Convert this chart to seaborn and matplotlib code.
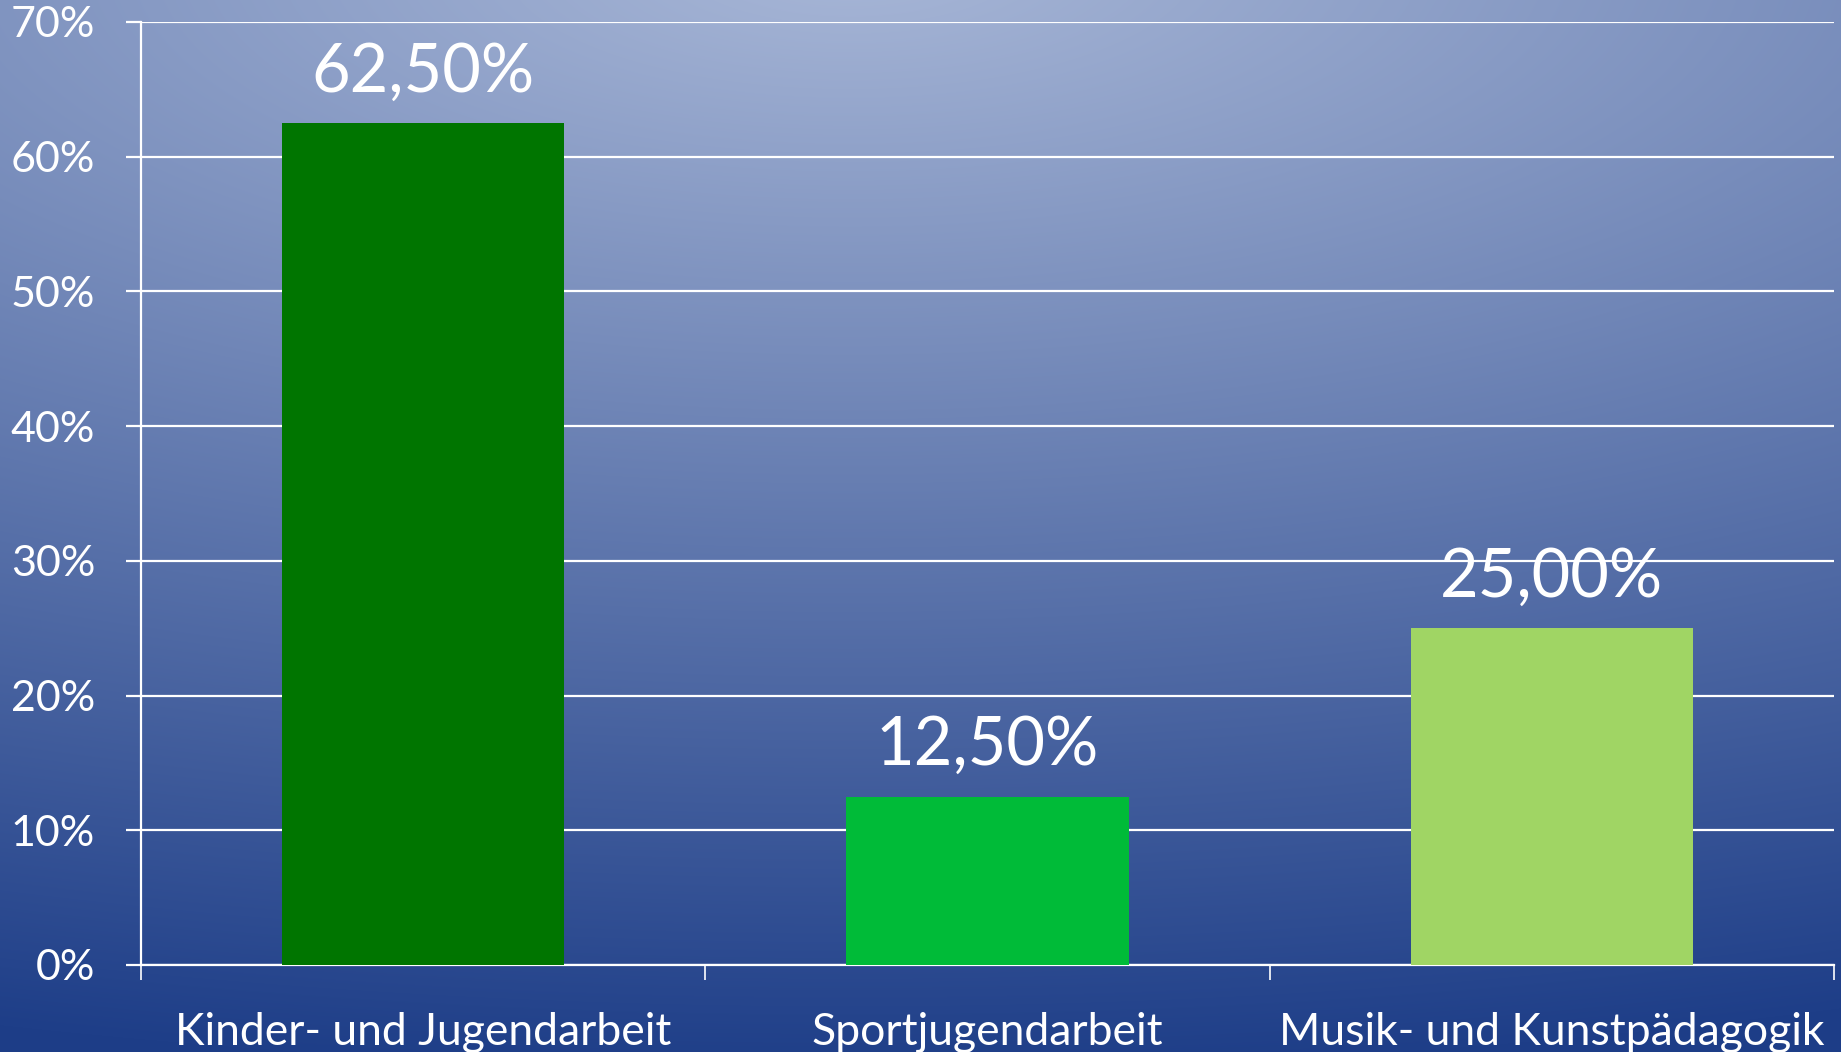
import numpy as np
import pandas as pd
import matplotlib
matplotlib.use("Agg")
import matplotlib.pyplot as plt
from matplotlib.ticker import PercentFormatter, FixedLocator
import seaborn as sns

# data
categories = ["Kinder- und Jugendarbeit", "Sportjugendarbeit", "Musik- und Kunstpädagogik"]
shares = [0.625, 0.125, 0.25]
bar_colors = ["#007500", "#00BB38", "#A0D564"]

df = pd.DataFrame({"Bereich": categories, "Anteil": shares})

sns.set_theme(style="white")
plt.rcParams["font.family"] = ["Lato", "DejaVu Sans"]

W, H = 1841, 1052
fig = plt.figure(figsize=(W / 100, H / 100), dpi=100)

# background gradient (light at top centre, dark blue towards the bottom)
bg = fig.add_axes([0, 0, 1, 1], zorder=0)
yy, xx = np.mgrid[0:H, 0:W]
d = np.sqrt(((xx - 850) / 3000.0) ** 2 + ((yy + 40) / 1110.0) ** 2)
d = np.clip(d, 0, 1)
light = np.array([0xA8, 0xB7, 0xD7]) / 255
dark = np.array([0x1E, 0x3E, 0x88]) / 255
img = light[None, None, :] * (1 - d[..., None]) + dark[None, None, :] * d[..., None]
bg.imshow(img, aspect="auto", extent=[0, 1, 0, 1])
bg.axis("off")

ax = fig.add_axes([141 / W, 1 - 965 / H, (1834 - 141) / W, (965 - 22) / H], zorder=1)
ax.patch.set_alpha(0)

sns.barplot(data=df, x="Bereich", y="Anteil", hue="Bereich", palette=bar_colors,
            width=0.5, legend=False, ax=ax, saturation=1, zorder=3,
            edgecolor="none", linewidth=0)

ax.set_xlim(-0.5, 2.5)
ax.set_ylim(0, 0.7)
ax.yaxis.set_major_locator(FixedLocator(np.arange(0, 0.71, 0.1)))
ax.yaxis.set_major_formatter(PercentFormatter(1.0, decimals=0))
ax.grid(axis="y", color="white", linewidth=1.6, zorder=1)
ax.set_axisbelow(True)

# ticks at category boundaries, labels centred
ax.set_xticks([-0.5, 0.5, 1.5, 2.5])
ax.set_xticklabels([])
ax.set_xticks([0, 1, 2], minor=True)
ax.set_xticklabels(categories, minor=True)
ax.tick_params(axis="x", which="major", bottom=True, length=11, width=1.2,
               color="white", direction="out")
ax.tick_params(axis="x", which="minor", bottom=True, length=0, pad=34,
               labelsize=32, labelcolor="white")
ax.tick_params(axis="y", left=True, length=11, width=1.6, color="white", direction="out",
               pad=22, labelsize=31, labelcolor="white")

for side in ["top", "right"]:
    ax.spines[side].set_visible(False)
for side in ["left", "bottom"]:
    ax.spines[side].set_color("white")
    ax.spines[side].set_linewidth(1.6)

ax.set_xlabel("")
ax.set_ylabel("")

for cont in ax.containers:
    vals = cont.datavalues
    labs = [f"{v * 100:.2f}%".replace(".", ",") for v in vals]
    ax.bar_label(cont, labels=labs, padding=14, color="white", fontsize=48)

fig.savefig("out.png", dpi=100)
